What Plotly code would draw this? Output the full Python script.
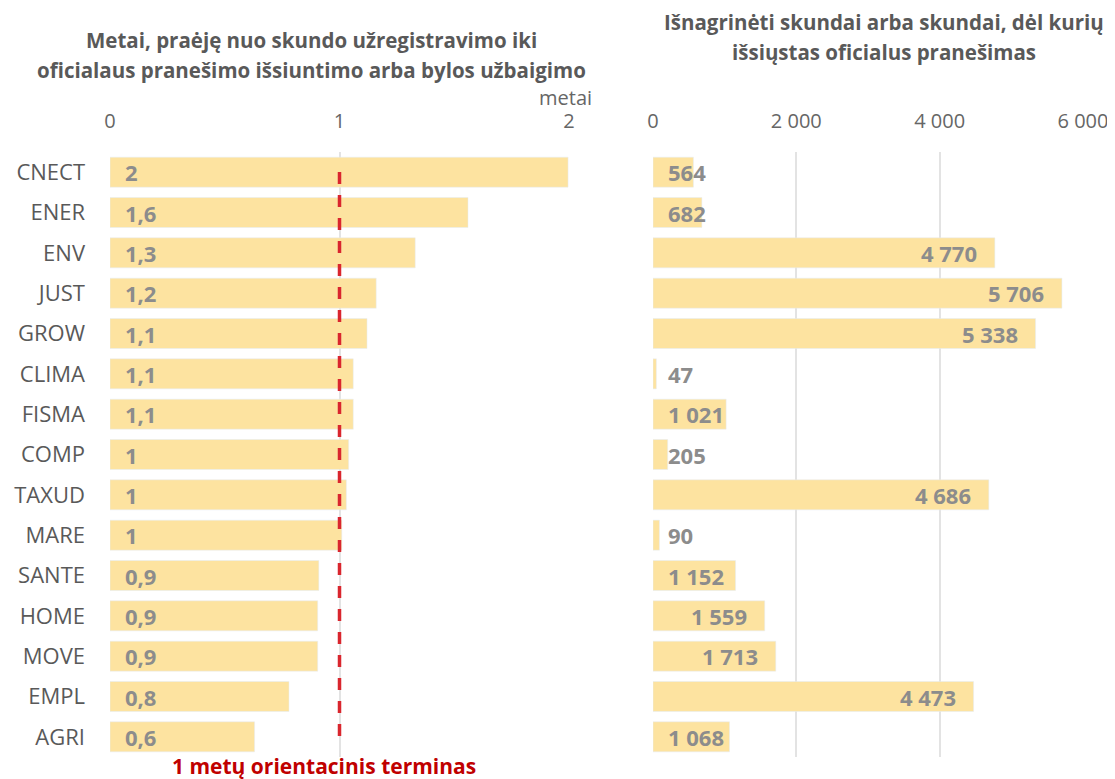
import plotly.graph_objects as go

categories = ["CNECT", "ENER", "ENV", "JUST", "GROW", "CLIMA", "FISMA", "COMP",
              "TAXUD", "MARE", "SANTE", "HOME", "MOVE", "EMPL", "AGRI"]
years = [1.996, 1.56, 1.33, 1.16, 1.12, 1.06, 1.06, 1.04, 1.03, 1.01, 0.91, 0.905, 0.905, 0.78, 0.63]
complaints = [564, 682, 4770, 5706, 5338, 47, 1021, 205, 4686, 90, 1152, 1559, 1713, 4473, 1068]

left_ticks = [0, 1, 2]
right_ticks = [0, 2000, 4000, 6000]
right_ticktext = ["0", "2 000", "4 000", "6 000"]

title_left = ["Metai, praėję nuo skundo užregistravimo iki",
              "oficialaus pranešimo išsiuntimo arba bylos užbaigimo"]
title_right = ["Išnagrinėti skundai arba skundai, dėl kurių",
               "išsiųstas oficialus pranešimas"]
unit_label = "metai"
ref_value = 1
ref_label = "1 metų orientacinis terminas"

# page has an 8px body margin; figure sized so it fits the 1115x779 window
OFF = 8
W, H = 1115 - OFF, 779 - OFF
TOP = 152 - OFF
BOTTOM = H - (757 - OFF)
PLOT_H = H - TOP - BOTTOM
FONT = "Open Sans"
BAR = "#fde3a0"
LBL = "#8c8c8c"
TXT = "#595959"
TICK = "#666666"


def fx(px):
    return (px - OFF) / W


def fy(py):
    return (H - BOTTOM - (py - OFF)) / PLOT_H


def fmt_years(v):
    s = f"{round(v, 1):.1f}".replace(".", ",")
    return s[:-2] if s.endswith(",0") else s


def fmt_int(v):
    return f"{v:,}".replace(",", " ")


fig = go.Figure()
fig.add_trace(go.Bar(y=categories, x=years, orientation="h", marker_color=BAR,
                     width=0.745, xaxis="x", yaxis="y", hoverinfo="skip"))
fig.add_trace(go.Bar(y=categories, x=complaints, orientation="h", marker_color=BAR,
                     width=0.745, xaxis="x2", yaxis="y2", hoverinfo="skip"))

ann = []
lblfont = dict(family=FONT, size=22, color=LBL)
for c, v in zip(categories, years):
    ann.append(dict(x=0, y=c, xref="x", yref="y", text=f"<b>{fmt_years(v)}</b>",
                    showarrow=False, xanchor="left", xshift=13, font=lblfont))

px_per_unit = (1083 - 653) / 6000
for c, v in zip(categories, complaints):
    t = fmt_int(v)
    tw = sum(6 if ch == " " else 12 for ch in t)
    barpx = v * px_per_unit
    if barpx - 17 - tw < 17:
        ann.append(dict(x=0, y=c, xref="x2", yref="y2", text=f"<b>{t}</b>",
                        showarrow=False, xanchor="left", xshift=13, font=lblfont))
    else:
        ann.append(dict(x=v, y=c, xref="x2", yref="y2", text=f"<b>{t}</b>",
                        showarrow=False, xanchor="right", xshift=-16, font=lblfont))

titlefont = dict(family=FONT, size=20.5, color=TXT)
for i, line in enumerate(title_left):
    ann.append(dict(x=fx(311), y=fy(40 + 30 * i), xref="paper", yref="paper",
                    text=f"<b>{line}</b>", showarrow=False, xanchor="center",
                    yanchor="middle", font=titlefont))
for i, line in enumerate(title_right):
    ann.append(dict(x=fx(884), y=fy(22 + 30 * i), xref="paper", yref="paper",
                    text=f"<b>{line}</b>", showarrow=False, xanchor="center",
                    yanchor="middle", font=titlefont))
ann.append(dict(x=2, y=fy(97), xref="x", yref="paper", text=unit_label,
                showarrow=False, xanchor="center", yanchor="middle", xshift=-4,
                font=dict(family=FONT, size=20, color=TICK)))
ann.append(dict(x=ref_value, y=fy(766), xref="x", yref="paper", text=f"<b>{ref_label}</b>",
                showarrow=False, xanchor="center", yanchor="middle", xshift=-16,
                font=dict(family=FONT, size=21, color="#c00000")))

shapes = [dict(type="line", xref="x", yref="paper", x0=ref_value, x1=ref_value,
               y0=fy(172), y1=fy(741),
               line=dict(color="#d9262e", width=3.5, dash="12px,11px"), layer="above")]

fig.update_layout(
    width=W, height=H, margin=dict(l=0, r=0, t=TOP, b=BOTTOM, autoexpand=False),
    paper_bgcolor="white", plot_bgcolor="white", showlegend=False,
    xaxis=dict(domain=[fx(110), fx(569)], range=[0, 2], side="top", tickvals=left_ticks,
               showgrid=True, gridcolor="#e3e3e3", gridwidth=2, zeroline=False,
               tickfont=dict(family=FONT, size=20, color=TICK), ticks="",
               ticklabelstandoff=19, automargin=False, fixedrange=True),
    yaxis=dict(domain=[0, 1], categoryorder="array", categoryarray=categories,
               autorange="reversed", showgrid=False, zeroline=False, ticks="",
               tickfont=dict(family=FONT, size=22, color=TXT), ticklabelstandoff=24,
               automargin=False),
    xaxis2=dict(domain=[fx(653), fx(1083)], range=[0, 6000], side="top", anchor="y2",
                tickvals=right_ticks, ticktext=right_ticktext,
                showgrid=True, gridcolor="#e3e3e3", gridwidth=2, zeroline=False,
                tickfont=dict(family=FONT, size=20, color=TICK), ticks="",
                ticklabelstandoff=19, automargin=False),
    yaxis2=dict(domain=[0, 1], anchor="x2", categoryorder="array", categoryarray=categories,
                autorange="reversed", showgrid=False, zeroline=False, showticklabels=False,
                ticks="", automargin=False),
    annotations=ann, shapes=shapes,
)

fig.write_html("out.html")
